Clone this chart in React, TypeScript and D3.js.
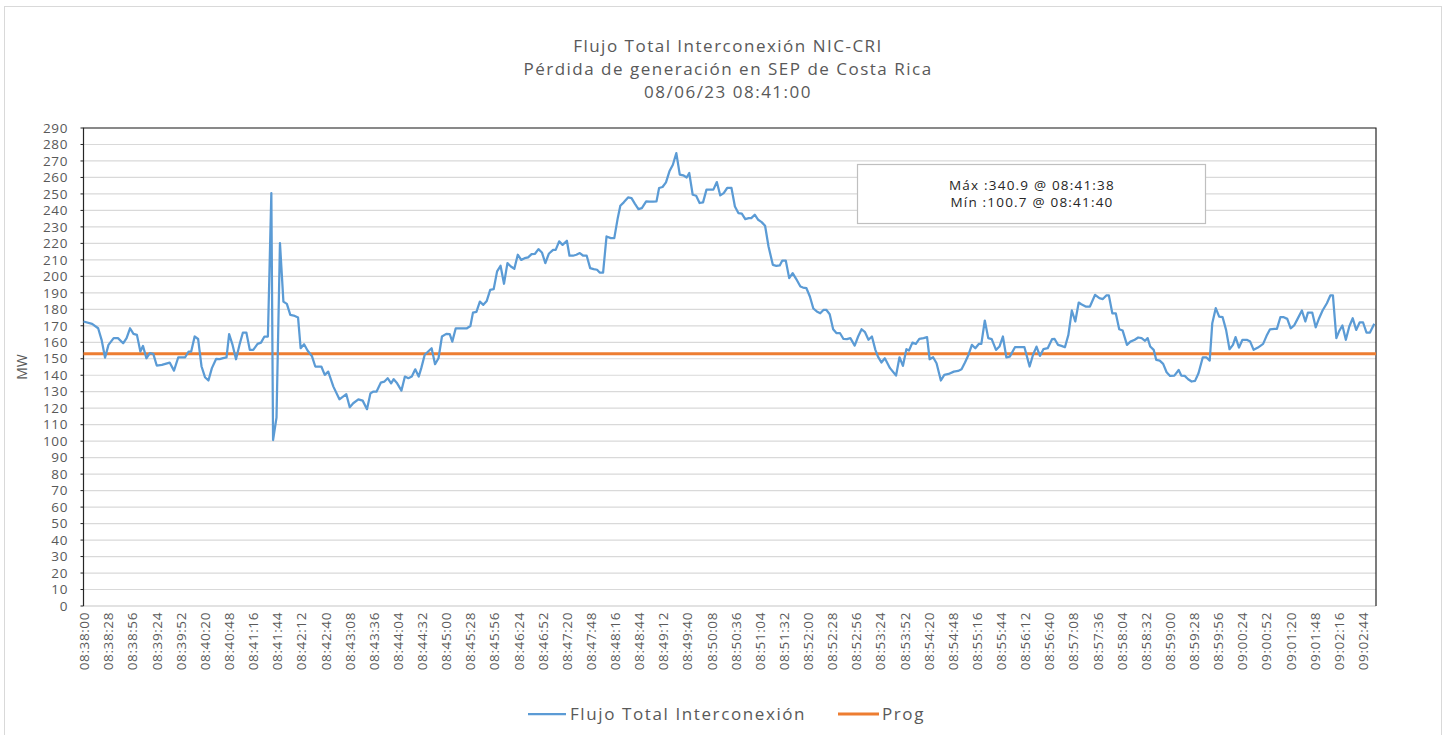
import React from 'react';
import * as d3 from 'd3';

// seconds after 08:38:00
const flowSeconds = [
  0, 10, 17, 21, 25, 29, 35, 40, 46, 50, 54, 58, 62, 66, 69, 73, 77, 81, 85, 91,
  100, 105, 110, 118, 122, 125, 129, 133, 137, 141, 145, 149, 154, 158, 162, 166, 169, 173, 177, 181,
  185, 189, 193, 197, 202, 206, 210, 214, 218, 220, 224, 228, 232, 236, 240, 244, 249, 252, 256, 260,
  265, 269, 276, 280, 284, 290, 297, 305, 309, 313, 319, 324, 329, 333, 336, 340, 345, 349, 353, 357,
  360, 364, 369, 373, 377, 381, 385, 389, 392, 396, 404, 408, 412, 416, 421, 425, 428, 432, 439, 445,
  449, 452, 456, 460, 464, 468, 472, 476, 480, 484, 488, 492, 496, 500, 504, 508, 512, 516, 520, 524,
  528, 532, 536, 540, 545, 548, 552, 556, 561, 564, 568, 572, 576, 580, 584, 588, 592, 596, 599, 603,
  607, 612, 616, 620, 623, 627, 632, 636, 640, 644, 648, 653, 657, 661, 665, 668, 672, 676, 680, 684,
  688, 692, 696, 700, 703, 707, 711, 715, 719, 723, 727, 731, 735, 739, 743, 747, 752, 756, 760, 764,
  768, 772, 775, 779, 783, 787, 791, 795, 800, 804, 808, 811, 815, 819, 823, 827, 832, 835, 839, 843,
  847, 851, 855, 859, 862, 866, 870, 874, 878, 882, 886, 890, 895, 899, 903, 907, 911, 915, 919, 922,
  926, 930, 936, 943, 947, 951, 955, 958, 962, 966, 970, 975, 979, 982, 986, 990, 995, 999, 1004, 1010,
  1015, 1019, 1023, 1027, 1031, 1035, 1039, 1042, 1046, 1050, 1054, 1059, 1063, 1067, 1071, 1075, 1081, 1087, 1092, 1098,
  1102, 1106, 1110, 1114, 1119, 1124, 1127, 1131, 1135, 1139, 1143, 1147, 1151, 1155, 1158, 1163, 1168, 1174, 1179, 1183,
  1187, 1190, 1194, 1198, 1202, 1206, 1211, 1215, 1220, 1224, 1228, 1232, 1235, 1238, 1242, 1245, 1249, 1253, 1257, 1261,
  1266, 1271, 1274, 1278, 1282, 1286, 1290, 1294, 1299, 1303, 1307, 1310, 1314, 1318, 1322, 1326, 1330, 1334, 1337, 1341,
  1345, 1350, 1354, 1358, 1363, 1369, 1373, 1377, 1382, 1385, 1389, 1393, 1397, 1401, 1405, 1409, 1414, 1418, 1421, 1426,
  1430, 1434, 1438, 1443, 1447, 1450, 1454, 1457, 1461, 1465, 1469, 1473, 1477, 1481, 1485, 1489, 1493, 1498,
];

const flowValues = [
  172.6, 171.2, 168.5, 161.5, 150.7, 158.4, 162.5, 162.5, 159.4, 162.5, 168.5, 165.1, 164.5, 154.4, 157.8, 150.3, 153.4, 153, 145.9, 146.3,
  147.7, 142.8, 150.9, 150.9, 154.4, 154.4, 163.5, 162, 145.3, 138.8, 136.8, 144.3, 150, 149.8, 150.4, 150.8, 164.9, 158.4, 149.7, 158.4,
  165.9, 165.9, 155.4, 155.4, 159, 159.8, 163.5, 163.5, 250.5, 100.7, 114.3, 220.2, 184.7, 183.3, 176.6, 176.2, 175, 156.4, 158.8, 155,
  151.7, 145.3, 145.3, 140.2, 142.2, 133.1, 125.4, 128.5, 120.6, 123, 125.4, 124.6, 119.4, 129, 130, 130, 135.5, 136.1, 138.2, 135.1,
  137.6, 135.1, 130.7, 139.2, 138.2, 139.2, 143.6, 139.2, 144.3, 152.4, 156.4, 146.7, 150.3, 163.5, 165.1, 164.9, 160.4, 168.5, 168.5, 168.5,
  169.9, 178, 178.5, 184.7, 182.7, 185.1, 191.8, 192.2, 203, 206.4, 195.5, 208, 206, 204.6, 213.1, 210, 211, 211.5, 213.5, 213.7,
  216.5, 214.5, 208, 213.7, 216.1, 216.1, 221.2, 219.1, 221.6, 212.5, 212.5, 213.1, 214.1, 212.5, 212.5, 205, 204.4, 204, 202.3, 202.3,
  224.2, 223.2, 223.2, 235.3, 242.8, 244.9, 247.9, 247.5, 244, 240.8, 241.4, 245.5, 245.3, 245.3, 245.5, 253.6, 254.2, 257, 263.7, 267.7,
  274.8, 261.7, 261.3, 260, 262.7, 249.5, 248.9, 244.5, 244.9, 252.6, 252.6, 252.6, 257.2, 249.1, 250.5, 253.6, 253.6, 242.4, 238.4, 238,
  234.7, 235.3, 235.3, 237.4, 234.3, 232.9, 230.7, 218.1, 207, 206.4, 206.6, 209.6, 209.6, 198.9, 201.9, 198.5, 193.8, 193.2, 192.8, 187.8,
  180.5, 178.7, 177.6, 179.7, 179.7, 177, 167.9, 165.5, 165.5, 162, 161.9, 162.5, 158, 163.5, 167.9, 166.1, 161.5, 163.5, 155.4, 151.3,
  147.7, 150.3, 144.3, 139.8, 150.9, 145.7, 155.8, 155, 159.8, 159, 162, 162.5, 163.1, 149.7, 150.9, 147.3, 136.8, 140.2, 140.8, 142.2,
  142.6, 143.6, 147.7, 152.3, 158.4, 156.4, 159, 159, 173.2, 162.5, 161.9, 155.4, 157.4, 163.5, 150.9, 151.3, 157, 157, 157, 145.3,
  152.4, 157.4, 151.7, 155.8, 156.4, 161.9, 162, 158.4, 157.8, 157, 164.5, 179.3, 172.6, 184.1, 183.1, 181.7, 181.7, 188.8, 186.8, 186.2,
  188.4, 188.4, 177.6, 177.6, 167.9, 167.1, 158.4, 160.4, 161.5, 162.9, 162.5, 160.9, 162.5, 157.4, 155.4, 149.3, 148.9, 146.9, 141.8, 139.6,
  139.8, 143.2, 139.8, 139.6, 137.6, 136.2, 136.6, 141.2, 150.9, 150.9, 148.9, 171.6, 180.7, 175.6, 175.2, 167.5, 155.8, 158.4, 163.1, 156.8,
  161.5, 161.5, 160.4, 155.4, 156.8, 159, 163.9, 167.9, 168.1, 168.1, 175.2, 175.2, 174.2, 168.5, 170.2, 174.2, 179.3, 172.6, 178, 178,
  169.1, 174.6, 179.3, 183.7, 188.4, 188.4, 162.5, 166.5, 170.2, 161.5, 169.6, 174.6, 167.5, 172, 172, 165.9, 165.9, 171.2,
];

const progSeconds = [0, 1500];
const progValues = [153, 153];

const titleLines = [
  'Flujo Total Interconexión NIC-CRI',
  'Pérdida de generación en SEP de Costa Rica',
  '08/06/23 08:41:00',
];
const infoLines = ['Máx :340.9 @ 08:41:38', 'Mín :100.7 @ 08:41:40'];
const seriesNames = ['Flujo Total Interconexión', 'Prog'];

const yTicks = d3.range(0, 291, 10);
const xTicks = d3.range(0, 1485, 28);

const W = 1447;
const H = 735;
const plot = { left: 83.5, right: 1376, top: 128, bottom: 606 };
const font = '"Open Sans", sans-serif';
const gray = '#595959';

const fmtTime = (s: number) => {
  const total = 8 * 3600 + 38 * 60 + s;
  const hh = Math.floor(total / 3600);
  const mm = Math.floor((total % 3600) / 60);
  const ss = total % 60;
  const p = (n: number) => String(n).padStart(2, '0');
  return `${p(hh)}:${p(mm)}:${p(ss)}`;
};

export default function App() {
  const x = d3.scaleLinear().domain([0, 1500]).range([plot.left, plot.right]);
  const y = d3.scaleLinear().domain([0, 290]).range([plot.bottom, plot.top]);

  const flow = flowSeconds.map((t, i) => [t, flowValues[i]] as [number, number]);
  const prog = progSeconds.map((t, i) => [t, progValues[i]] as [number, number]);

  const line = d3
    .line<[number, number]>()
    .x((d) => x(d[0]))
    .y((d) => y(d[1]));

  return (
    <svg
      width={W}
      height={H}
      style={{ position: 'absolute', left: 0, top: 0, background: '#fff' }}
    >
      <rect x={0} y={0} width={W} height={H} fill="#fff" />
      <rect x={4.5} y={6.5} width={1437} height={740} fill="none" stroke="#d9d9d9" />

      {/* title */}
      {titleLines.map((t, i) => (
        <text
          key={t}
          x={728}
          y={52 + i * 23}
          textAnchor="middle"
          fontFamily={font}
          fontSize={17}
          fill={gray}
          style={{ letterSpacing: '1.5px' }}
        >
          {t}
        </text>
      ))}

      {/* grid */}
      {yTicks.slice(1).map((v) => (
        <line
          key={v}
          x1={plot.left}
          x2={plot.right}
          y1={y(v)}
          y2={y(v)}
          stroke="#d9d9d9"
          strokeWidth={1.2}
        />
      ))}
      <line x1={plot.left} x2={plot.right} y1={plot.bottom} y2={plot.bottom} stroke="#d9d9d9" strokeWidth={1.5} />

      {/* plot border */}
      <path
        d={`M${plot.left},${plot.bottom}V${plot.top}H${plot.right}V${plot.bottom}`}
        fill="none"
        stroke="#262626"
        strokeWidth={1.2}
      />

      {/* y axis */}
      {yTicks.map((v) => (
        <g key={v}>
          <line x1={plot.left - 3} x2={plot.left} y1={y(v)} y2={y(v)} stroke="#262626" />
          <text
            x={68}
            y={y(v)}
            dy="0.35em"
            textAnchor="end"
            fontFamily={font}
            fontSize={13.5}
            fill={gray}
            style={{ letterSpacing: '0.6px' }}
          >
            {v}
          </text>
        </g>
      ))}
      <text
        transform={`translate(27,${(plot.top + plot.bottom) / 2}) rotate(-90)`}
        textAnchor="middle"
        fontFamily={font}
        fontSize={14}
        fill={gray}
      >
        MW
      </text>

      {/* x axis labels */}
      {xTicks.map((t) => (
        <text
          key={t}
          transform={`translate(${x(t) + 1},${plot.bottom + 6}) rotate(-90)`}
          dy="0.35em"
          textAnchor="end"
          fontFamily={font}
          fontSize={13.5}
          fill={gray}
          style={{ letterSpacing: '0.6px' }}
        >
          {fmtTime(t)}
        </text>
      ))}

      {/* series */}
      <path d={line(prog) || ''} fill="none" stroke="#ed7d31" strokeWidth={3} />
      <path
        d={line(flow) || ''}
        fill="none"
        stroke="#5b9bd5"
        strokeWidth={2.25}
        strokeLinejoin="round"
      />

      {/* info box */}
      <rect x={857.5} y={164.5} width={348} height={59} fill="#fff" stroke="#bfbfbf" strokeWidth={1.2} />
      {infoLines.map((t, i) => (
        <text
          key={t}
          x={1032}
          y={190 + i * 17}
          textAnchor="middle"
          fontFamily={font}
          fontSize={13.5}
          fill="#262626"
          style={{ letterSpacing: '1.2px' }}
        >
          {t}
        </text>
      ))}

      {/* legend */}
      <line x1={528} x2={566} y1={714} y2={714} stroke="#5b9bd5" strokeWidth={2.25} />
      <text x={570} y={720} fontFamily={font} fontSize={17} fill={gray} style={{ letterSpacing: '1.6px' }}>
        {seriesNames[0]}
      </text>
      <line x1={838} x2={879} y1={714} y2={714} stroke="#ed7d31" strokeWidth={3} />
      <text x={882} y={720} fontFamily={font} fontSize={17} fill={gray} style={{ letterSpacing: '1.6px' }}>
        {seriesNames[1]}
      </text>
    </svg>
  );
}
